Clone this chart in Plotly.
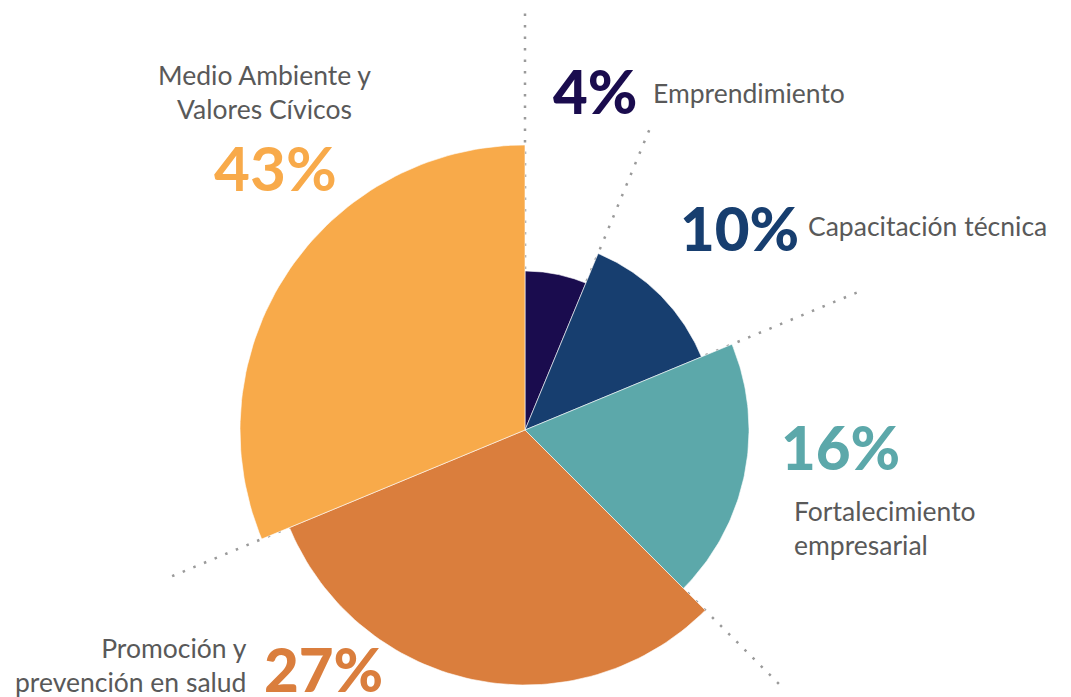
import numpy as np
import plotly.graph_objects as go

# segmentos del gráfico (sentido horario desde las 12)
categorias = ["Emprendimiento", "Capacitación técnica", "Fortalecimiento empresarial",
              "Promoción y prevención en salud", "Medio Ambiente y Valores Cívicos"]
porcentajes = [4, 10, 16, 27, 43]
radios = [159, 191, 224, 255, 285]
anchos = [22.5, 45, 67.5, 112.5, 112.5]
colores = ["#1a0c4e", "#173e6f", "#5ca8aa", "#da7e3d", "#f8aa4a"]

# largo de las guías punteadas en cada borde
largo_guias = [418, 333, 367, 362, 384]

W, H = 1071, 697
cx, cy = 525, 430  # centro en pixeles

fig = go.Figure()

inicios = np.concatenate([[0], np.cumsum(anchos)[:-1]])

# guías punteadas por debajo
for ang, largo in zip(inicios, largo_guias):
    t = np.radians(ang)
    fig.add_trace(go.Scatter(x=[0, largo * np.sin(t)], y=[0, largo * np.cos(t)], mode="lines",
                             line=dict(color="#9a9a9a", width=2.5, dash="2.5px,9px"),
                             hoverinfo="skip", showlegend=False))

for cat, ini, ancho, r, col in zip(categorias, inicios, anchos, radios, colores):
    t = np.radians(np.linspace(ini, ini + ancho, 80))
    xs = np.concatenate([[0], r * np.sin(t), [0]])
    ys = np.concatenate([[0], r * np.cos(t), [0]])
    fig.add_trace(go.Scatter(x=xs, y=ys, fill="toself", fillcolor=col, mode="lines",
                             line=dict(color="white", width=0.6), name=cat, showlegend=False))

gris = "#595959"


def px(x, y):
    return x - cx, cy - y


# porcentajes
pos_pct = [(595, 91), (739, 228), (840, 447), (323, 669), (275, 167)]
for p, (x, y), col in zip(porcentajes, pos_pct, colores):
    fx, fy = px(x, y)
    f = dict(family="Lato", size=60, weight=900, color=col)
    if p == 43:
        f = dict(family="Lato", size=62, weight=700, color=col)
    fig.add_annotation(x=fx, y=fy, text=f"{p}%", showarrow=False, font=f,
                       xanchor="center", yanchor="middle")

# etiquetas
etiquetas = [
    ("Emprendimiento", 651, 93, "left"),
    ("Capacitación técnica", 806, 226, "left"),
    ("Fortalecimiento<br>empresarial", 792, 528, "left"),
    ("Promoción y<br>prevención en salud", 249, 665, "right"),
    ("Medio Ambiente y<br>Valores Cívicos", 264, 92, "center"),
]
for txt, x, y, al in etiquetas:
    fx, fy = px(x, y)
    fig.add_annotation(x=fx, y=fy, text=txt, showarrow=False, align=al, xanchor=al,
                       yanchor="middle", font=dict(family="Lato", size=26.5, color=gris))

fig.update_xaxes(range=[-cx, W - cx], visible=False)
fig.update_yaxes(range=[cy - H, cy], visible=False)
fig.update_layout(width=W, height=H, margin=dict(l=0, r=0, t=0, b=0),
                  plot_bgcolor="white", paper_bgcolor="white", showlegend=False)

fig.write_html("out.html", config={"displayModeBar": False},
               post_script="document.body.style.margin='0';")
